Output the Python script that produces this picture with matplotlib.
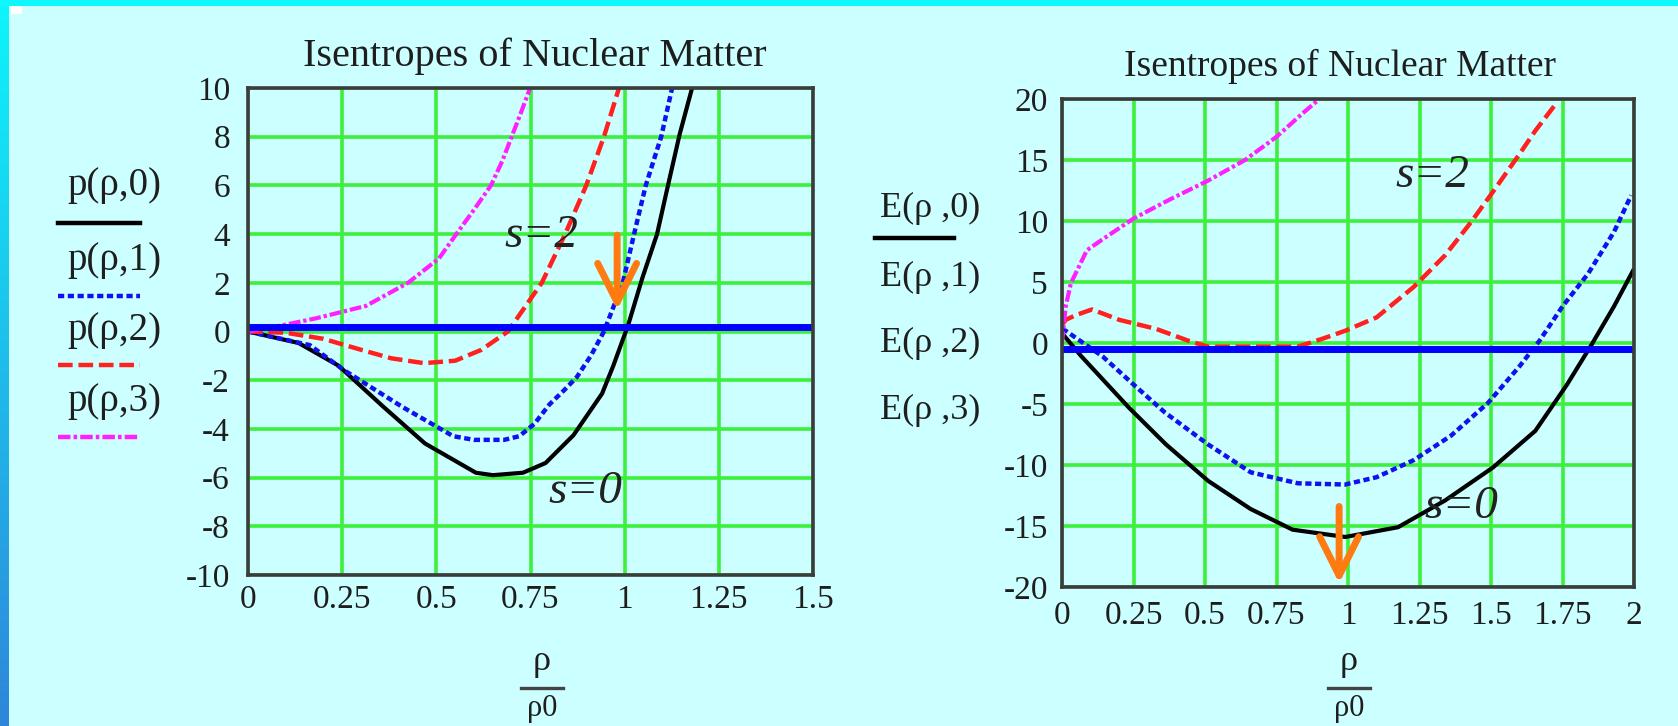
import numpy as np
import matplotlib.pyplot as plt
from matplotlib.lines import Line2D
from matplotlib.patches import Rectangle

plt.rcParams['font.family'] = ['Liberation Serif', 'DejaVu Serif']
plt.rcParams['axes.unicode_minus'] = False

# ---- data ----
# left panel: pressure isentropes p(rho, s)
rho_p0 = [0, 0.134, 0.24, 0.36, 0.47, 0.605, 0.65, 0.73, 0.79, 0.864, 0.94, 0.97, 1.01, 1.047, 1.086, 1.115, 1.146, 1.179]
p_s0 = [0, -0.47, -1.4, -3.1, -4.6, -5.8, -5.9, -5.8, -5.4, -4.26, -2.55, -1.4, 0.3, 2.2, 4.0, 6.0, 8.1, 10.0]

rho_p1 = [0, 0.164, 0.256, 0.41, 0.545, 0.6, 0.68, 0.72, 0.76, 0.80, 0.84, 0.873, 0.91, 0.945, 0.97, 0.995, 1.025, 1.056, 1.097, 1.126]
p_s1 = [0, -0.56, -1.6, -3.1, -4.3, -4.45, -4.45, -4.3, -3.8, -3.0, -2.4, -1.87, -1.0, 0, 1.0, 2.0, 4.0, 6.0, 8.0, 10.0]

rho_p2 = [0, 0.1, 0.2, 0.3, 0.38, 0.467, 0.55, 0.62, 0.69, 0.735, 0.78, 0.842, 0.898, 0.945, 0.985]
p_s2 = [0, -0.05, -0.3, -0.75, -1.1, -1.3, -1.2, -0.75, 0, 1.0, 2.0, 4.0, 6.0, 8.0, 10.0]

rho_p3 = [0, 0.09, 0.183, 0.313, 0.425, 0.507, 0.553, 0.6, 0.645, 0.675, 0.70, 0.725, 0.749]
p_s3 = [0, 0.25, 0.55, 1.05, 2.0, 3.0, 4.0, 5.0, 6.0, 7.0, 8.0, 9.0, 10.0]

p_level = 0.18

# right panel: energy per nucleon E(rho, s)
rho_e0 = [0, 0.068, 0.234, 0.363, 0.511, 0.659, 0.806, 0.99, 1.175, 1.34, 1.507, 1.655, 1.766, 1.85, 1.93, 1.996]
e_s0 = [0.8, -1.1, -5.3, -8.3, -11.3, -13.6, -15.3, -15.9, -15.1, -12.9, -10.2, -7.2, -3.4, -0.2, 3.0, 5.9]

rho_e1 = [0, 0.013, 0.142, 0.25, 0.36, 0.51, 0.66, 0.825, 0.99, 1.1, 1.23, 1.36, 1.49, 1.6, 1.67, 1.75, 1.84, 1.93, 1.99]
e_s1 = [1.15, 1.0, -1.1, -3.4, -5.7, -8.3, -10.6, -11.5, -11.6, -11.0, -9.6, -7.6, -4.9, -1.9, 0.2, 3.0, 5.7, 9.1, 12.1]

rho_e2 = [0, 0.013, 0.05, 0.105, 0.2, 0.33, 0.44, 0.51, 0.825, 0.917, 0.99, 1.1, 1.23, 1.34, 1.43, 1.51, 1.6, 1.655, 1.73]
e_s2 = [1.5, 1.9, 2.3, 2.75, 1.9, 1.15, 0.2, -0.3, -0.3, 0.4, 1.0, 2.1, 4.6, 7.2, 9.9, 12.5, 15.5, 17.4, 19.7]

rho_e3 = [0, 0.013, 0.031, 0.087, 0.142, 0.25, 0.38, 0.51, 0.64, 0.75, 0.84, 0.9]
e_s3 = [0, 3.0, 4.9, 7.6, 8.5, 10.2, 11.8, 13.3, 15.0, 16.9, 18.8, 20.0]

e_level = -0.5

left_xticks = [0, 0.25, 0.5, 0.75, 1, 1.25, 1.5]
left_xlabels = ['0', '0.25', '0.5', '0.75', '1', '1.25', '1.5']
left_yticks = [-10, -8, -6, -4, -2, 0, 2, 4, 6, 8, 10]
right_xticks = [0, 0.25, 0.5, 0.75, 1, 1.25, 1.5, 1.75, 2]
right_xlabels = ['0', '0.25', '0.5', '0.75', '1', '1.25', '1.5', '1.75', '2']
right_yticks = [-20, -15, -10, -5, 0, 5, 10, 15, 20]

p_names = ['p(\u03c1,0)', 'p(\u03c1,1)', 'p(\u03c1,2)', 'p(\u03c1,3)']
e_names = ['E(\u03c1 ,0)', 'E(\u03c1 ,1)', 'E(\u03c1 ,2)', 'E(\u03c1 ,3)']
title = 'Isentropes of Nuclear Matter'

# ---- styles ----
W, H = 1678, 726
BG = '#CCFFFF'
GRID = '#3CF03C'
INK = '#1e1e1e'
styles = [
    dict(color='black', lw=3.0, ls='-'),
    dict(color='#1010F0', lw=3.2, ls=(0, (1.4, 0.8))),
    dict(color='#FF2020', lw=3.2, ls=(0, (3.3, 1.3))),
    dict(color='#FF20FF', lw=3.0, ls=(0, (2.8, 0.7, 0.8, 0.7))),
]


def fx(px):
    return px / W


def fy(py):
    return 1 - py / H


fig = plt.figure(figsize=(W / 100, H / 100), dpi=100)
fig.patch.set_facecolor(BG)

# frame decoration: cyan top strip, gradient left strip
fig.add_artist(Rectangle((0, fy(6)), 1, 6 / H, transform=fig.transFigure,
                         color='#0CF8FC', lw=0))
bar = fig.add_axes([0, 0, fx(9), 1])
grad = np.linspace(0, 1, 256).reshape(-1, 1)
top_c = np.array([0x0D, 0xF5, 0xFC]) / 255
bot_c = np.array([0x2F, 0x86, 0xDA]) / 255
bar.imshow(top_c + grad[..., None] * (bot_c - top_c), aspect='auto')
bar.axis('off')
fig.add_artist(Rectangle((fx(11), fy(14)), 11 / W, 8 / H, transform=fig.transFigure,
                         color='white', lw=0))

ax1 = fig.add_axes([fx(248), fy(575), fx(813) - fx(248), fy(88) - fy(575)])
ax2 = fig.add_axes([fx(1062), fy(587), fx(1634) - fx(1062), fy(99) - fy(587)])

for ax in (ax1, ax2):
    ax.set_facecolor(BG)
    ax.grid(True, color=GRID, lw=2.6)
    ax.set_axisbelow(True)
    for sp in ax.spines.values():
        sp.set_color('#3c3c3c')
        sp.set_linewidth(2.6)
        sp.set_zorder(5)
    ax.tick_params(length=0, labelsize=24, labelcolor=INK)

# left panel
for (x, y), st in zip([(rho_p0, p_s0), (rho_p1, p_s1), (rho_p2, p_s2), (rho_p3, p_s3)], styles):
    ax1.plot(x, y, **st, zorder=3)
ax1.axhline(p_level, color='#0000FF', lw=5, zorder=4)
ax1.set_xlim(0, 1.5)
ax1.set_ylim(-10, 10)
ax1.set_xticks(left_xticks, left_xlabels)
ax1.set_yticks(left_yticks)
ax1.tick_params(axis='x', pad=7)
ax1.tick_params(axis='y', pad=13)

# right panel
for (x, y), st in zip([(rho_e0, e_s0), (rho_e1, e_s1), (rho_e2, e_s2), (rho_e3, e_s3)], styles):
    ax2.plot(x, y, **st, zorder=3)
ax2.axhline(e_level, color='#0000FF', lw=5, zorder=4)
ax2.set_xlim(0, 2)
ax2.set_ylim(-20, 20)
ax2.set_xticks(right_xticks, right_xlabels)
ax2.set_yticks(right_yticks)
ax2.tick_params(axis='x', pad=10)
ax2.tick_params(axis='y', pad=10)

# titles
fig.text(fx(535), fy(56), title, ha='center', va='center', fontsize=29, color=INK)
fig.text(fx(1340), fy(66), title, ha='center', va='center', fontsize=27, color=INK)

# Mathcad-style stacked y labels
p_text_y = [185, 260, 330, 401]
p_line_y = [223, 296, 365, 437]
for name, ty, ly, st in zip(p_names, p_text_y, p_line_y, styles):
    fig.text(fx(114), fy(ty), name, ha='center', va='center', fontsize=28, color=INK)
    fig.add_artist(Line2D([fx(58), fx(140)], [fy(ly), fy(ly)], transform=fig.transFigure,
                          color=st['color'], ls=st['ls'], lw=3.2))

e_text_y = [208, 277, 343, 410]
for name, ty in zip(e_names, e_text_y):
    fig.text(fx(930), fy(ty), name, ha='center', va='center', fontsize=26, color=INK)
fig.add_artist(Line2D([fx(875), fx(954)], [fy(238), fy(238)], transform=fig.transFigure,
                      color='black', lw=3.2))

# x labels as fractions rho / rho0
for cx in (542, 1349):
    fig.text(fx(cx), fy(662), '\u03c1', ha='center', va='center', fontsize=26, color=INK)
    fig.add_artist(Line2D([fx(cx - 21), fx(cx + 21)], [fy(688), fy(688)],
                          transform=fig.transFigure, color='#444444', lw=2.4))
    fig.text(fx(cx), fy(716), '\u03c10', ha='center', va='baseline', fontsize=22, color=INK)

# s labels
lab = dict(fontsize=34, style='italic', color='#222222', ha='center', va='center')
ax1.text(0.78, 3.95, 's=2', **lab, zorder=6)
ax1.text(0.895, -6.6, 's=0', **lab, zorder=6)
ax2.text(1.294, 13.7, 's=2', **lab, zorder=6)
ax2.text(1.395, -13.4, 's=0', **lab, zorder=6)

# orange arrows
arrow = dict(arrowstyle='->,head_length=1.4,head_width=0.7', color='#FF7A10',
             lw=5, shrinkA=0, shrinkB=0, mutation_scale=20)
ax1.annotate('', xy=(0.98, 0.88), xytext=(0.98, 3.96), arrowprops=arrow, zorder=7)
ax2.annotate('', xy=(0.969, -19.7), xytext=(0.969, -13.4), arrowprops=arrow, zorder=7)

fig.savefig('out.png', dpi=100, facecolor=BG)
